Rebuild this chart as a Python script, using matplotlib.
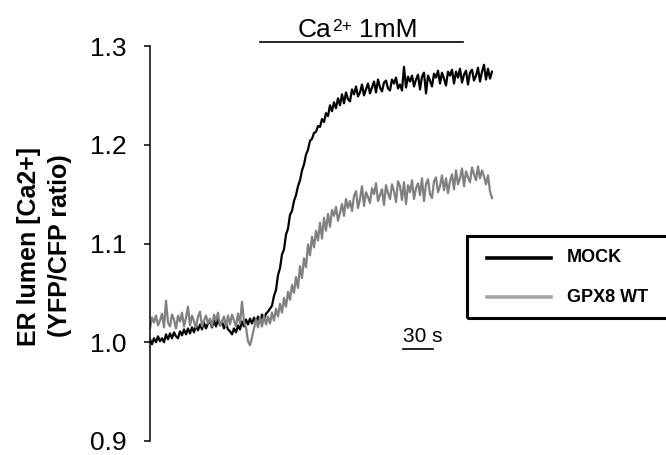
import numpy as np
import matplotlib
matplotlib.use('Agg')
import matplotlib.pyplot as plt
from matplotlib.patches import Rectangle
from matplotlib.lines import Line2D

plt.rcParams['font.family'] = ['Liberation Sans', 'DejaVu Sans']

# sampling times (s), one point every 2 s
time_s = np.arange(0, 344, 2)

# ER lumen Ca2+ ratio, MOCK
mock = [1.003, 0.998, 1.004, 1.000, 1.006, 1.001, 1.004, 1.000, 1.008, 1.003,
        1.009, 1.004, 1.010, 1.006, 1.004, 1.011, 1.007, 1.013, 1.008, 1.014,
        1.009, 1.015, 1.010, 1.017, 1.012, 1.018, 1.013, 1.020, 1.014, 1.019,
        1.021, 1.015, 1.022, 1.016, 1.023, 1.017, 1.021, 1.014, 1.019, 1.013,
        1.011, 1.008, 1.014, 1.010, 1.017, 1.013, 1.021, 1.016, 1.023, 1.018,
        1.024, 1.019, 1.025, 1.020, 1.026, 1.021, 1.028, 1.023, 1.029, 1.031,
        1.034, 1.037, 1.047, 1.053, 1.068, 1.075, 1.089, 1.094, 1.109, 1.115,
        1.129, 1.133, 1.143, 1.149, 1.158, 1.164, 1.174, 1.180, 1.190, 1.195,
        1.204, 1.206, 1.212, 1.213, 1.219, 1.218, 1.226, 1.223, 1.232, 1.229,
        1.240, 1.234, 1.243, 1.237, 1.247, 1.240, 1.251, 1.242, 1.253, 1.246,
        1.244, 1.256, 1.251, 1.259, 1.249, 1.253, 1.261, 1.250, 1.256, 1.262,
        1.252, 1.258, 1.264, 1.253, 1.266, 1.258, 1.254, 1.263, 1.265, 1.257,
        1.255, 1.266, 1.262, 1.268, 1.257, 1.261, 1.255, 1.279, 1.258, 1.269,
        1.264, 1.270, 1.259, 1.266, 1.271, 1.256, 1.269, 1.273, 1.252, 1.270,
        1.265, 1.259, 1.272, 1.268, 1.275, 1.262, 1.273, 1.267, 1.260, 1.274,
        1.270, 1.276, 1.262, 1.274, 1.268, 1.277, 1.263, 1.271, 1.275, 1.261,
        1.273, 1.276, 1.265, 1.270, 1.278, 1.264, 1.274, 1.281, 1.266, 1.277,
        1.267, 1.274]

# ER lumen Ca2+ ratio, GPX8 WT
gpx8 = [1.014, 1.025, 1.020, 1.027, 1.017, 1.022, 1.029, 1.015, 1.042, 1.020,
        1.016, 1.028, 1.023, 1.014, 1.027, 1.021, 1.030, 1.016, 1.025, 1.036,
        1.017, 1.027, 1.021, 1.015, 1.026, 1.031, 1.016, 1.022, 1.027, 1.019,
        1.024, 1.016, 1.028, 1.022, 1.030, 1.017, 1.021, 1.026, 1.016, 1.027,
        1.018, 1.028, 1.022, 1.016, 1.029, 1.019, 1.041, 1.021, 1.015, 1.001,
        0.997, 1.005, 1.014, 1.023, 1.015, 1.025, 1.016, 1.027, 1.018, 1.026,
        1.019, 1.030, 1.022, 1.034, 1.026, 1.039, 1.030, 1.045, 1.036, 1.051,
        1.043, 1.058, 1.050, 1.066, 1.055, 1.077, 1.065, 1.085, 1.076, 1.099,
        1.088, 1.107, 1.096, 1.113, 1.103, 1.121, 1.105, 1.126, 1.113, 1.130,
        1.117, 1.134, 1.128, 1.137, 1.123, 1.131, 1.140, 1.128, 1.145, 1.136,
        1.143, 1.133, 1.148, 1.153, 1.136, 1.145, 1.158, 1.138, 1.152, 1.147,
        1.141, 1.156, 1.150, 1.161, 1.143, 1.149, 1.155, 1.139, 1.159, 1.151,
        1.145, 1.160, 1.153, 1.142, 1.163, 1.158, 1.144, 1.162, 1.140, 1.159,
        1.152, 1.164, 1.145, 1.156, 1.161, 1.149, 1.166, 1.143, 1.160, 1.165,
        1.150, 1.146, 1.163, 1.167, 1.152, 1.158, 1.169, 1.154, 1.166, 1.151,
        1.163, 1.170, 1.155, 1.174, 1.160, 1.166, 1.176, 1.158, 1.173, 1.167,
        1.162, 1.177, 1.170, 1.164, 1.178, 1.166, 1.174, 1.168, 1.160, 1.169,
        1.153, 1.146]

yticks = [0.9, 1.0, 1.1, 1.2, 1.3]
ytick_labels = ['0.9', '1.0', '1.1', '1.2', '1.3']
series_names = ['MOCK', 'GPX8 WT']
ca_start, ca_end = 110, 313   # Ca2+ 1mM application (s)
scale_bar_s = 30

W, H = 666, 455
fig = plt.figure(figsize=(W / 100, H / 100), dpi=100)
ax = fig.add_axes([150 / W, 1 - 441 / H, 343 / W, 395 / H])

ax.plot(time_s, mock, color='black', lw=1.6)
ax.plot(time_s, gpx8, color='#808080', lw=1.6)

ax.set_xlim(0, 343)
ax.set_ylim(0.9, 1.3)
ax.set_yticks(yticks)
ax.set_yticklabels(ytick_labels, fontsize=19)
ax.tick_params(axis='y', direction='out', length=4, width=1.1, pad=13)
ax.set_xticks([])
for s in ['top', 'right', 'bottom']:
    ax.spines[s].set_visible(False)
ax.spines['left'].set_linewidth(1.1)

# Ca2+ bar and label
ax.plot([ca_start, ca_end], [1.304, 1.304], color='black', lw=1.2, clip_on=False)
t_ca = ax.text(148, 1.309, 'Ca', fontsize=19, ha='left', va='baseline', clip_on=False)
t_sup = ax.annotate('2+', xy=(1, 1), xycoords=t_ca, xytext=(0, -0.5),
                    textcoords='offset points', fontsize=12.5, ha='left', va='top')
ax.annotate('1mM', xy=(1, 0), xycoords=(t_sup, t_ca), xytext=(5, 0),
            textcoords='offset points', fontsize=19, ha='left', va='bottom')

# 30 s scale bar
ax.plot([253, 253 + scale_bar_s], [0.993, 0.993], color='black', lw=1.2)
ax.text(253, 0.996, '30 s', fontsize=15, ha='left', va='bottom')

# y label
fig.text(29 / W, 1 - 246 / H, 'ER lumen [Ca2+]', rotation=90, fontsize=18,
         fontweight='bold', ha='center', va='center')
fig.text(60 / W, 1 - 246 / H, '(YFP/CFP ratio)', rotation=90, fontsize=18,
         fontweight='bold', ha='center', va='center')

# legend box, cut off at the right edge
fig.patches.append(Rectangle((467 / W, 1 - 318 / H), 240 / W, 82 / H,
                             transform=fig.transFigure, fill=False,
                             ec='black', lw=2.2))
leg_colors = ['black', '#a6a6a6']
leg_y = [258, 297]
for name, c, yy in zip(series_names, leg_colors, leg_y):
    fig.lines.append(Line2D([487 / W, 551 / W], [1 - yy / H, 1 - yy / H],
                            transform=fig.transFigure, color=c, lw=2.6))
    fig.text(567 / W, 1 - yy / H, name, fontsize=13, fontweight='bold',
             ha='left', va='center')

fig.savefig('out.png', dpi=100)
